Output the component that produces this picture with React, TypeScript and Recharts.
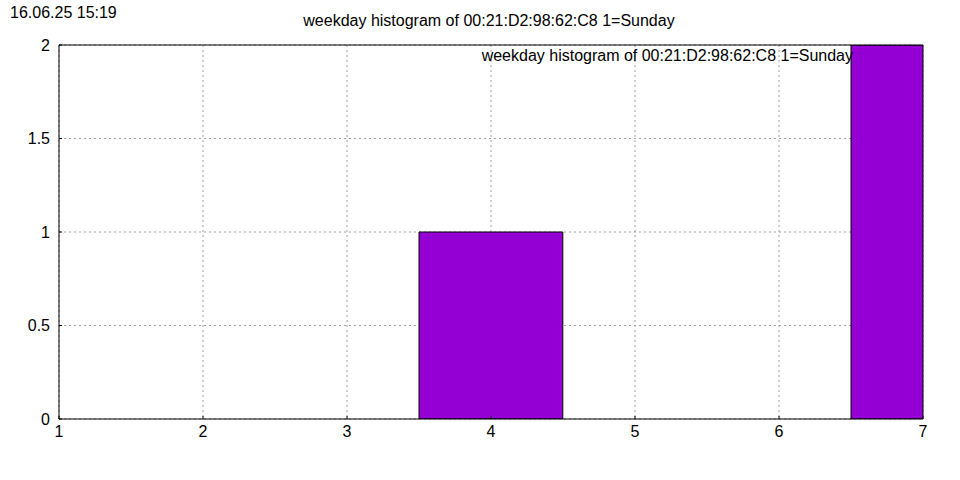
import React from "react";
import { ComposedChart, Bar, XAxis, YAxis, CartesianGrid } from "recharts";

const days = [1, 2, 3, 4, 5, 6, 7];
const counts = [0, 0, 0, 1, 0, 0, 2];
const yTicks = [0, 0.5, 1, 1.5, 2];
const seriesName = "weekday histogram of 00:21:D2:98:62:C8 1=Sunday";
const timestamp = "16.06.25 15:19";

const data = days.map((d, i) => ({ day: d, count: counts[i] }));

const FONT = "'Liberation Sans', Arial, sans-serif";
const tickStyle = { fill: "#000", fontSize: 16, fontFamily: FONT };

export default function App() {
  return (
    <div
      style={{
        position: "absolute",
        left: 0,
        top: 0,
        width: 960,
        height: 480,
        background: "#fff",
        fontFamily: FONT,
        color: "#000",
      }}
    >
      <ComposedChart
        width={960}
        height={480}
        data={data}
        barCategoryGap={0}
        barGap={0}
        margin={{ top: 44, right: 36, bottom: 31, left: 0 }}
      >
        <CartesianGrid stroke="#a0a0a0" strokeDasharray="2 3" />
        <XAxis
          dataKey="day"
          type="number"
          domain={[1, 7]}
          ticks={days}
          allowDataOverflow
          height={30}
          tickSize={-3}
          tickLine={{ stroke: "#000" }}
          axisLine={{ stroke: "#000" }}
          tick={tickStyle}
          tickMargin={10}
        />
        <XAxis
          xAxisId="top"
          orientation="top"
          dataKey="day"
          type="number"
          domain={[1, 7]}
          ticks={days}
          height={1}
          tick={false}
          tickSize={-3}
          tickLine={{ stroke: "#000" }}
          axisLine={{ stroke: "#000" }}
        />
        <YAxis
          domain={[0, 2]}
          ticks={yTicks}
          width={59}
          allowDataOverflow
          tickSize={-3}
          tickLine={{ stroke: "#000" }}
          axisLine={{ stroke: "#000" }}
          tick={tickStyle}
          tickMargin={12}
        />
        <YAxis
          yAxisId="right"
          orientation="right"
          domain={[0, 2]}
          ticks={yTicks}
          width={1}
          tick={false}
          tickSize={-3}
          tickLine={{ stroke: "#000" }}
          axisLine={{ stroke: "#000" }}
        />
        <Bar
          dataKey="count"
          name={seriesName}
          barSize={143.8}
          fill="#9400d3"
          stroke="#000"
          strokeWidth={1}
          isAnimationActive={false}
        />
      </ComposedChart>
      <div style={{ position: "absolute", left: 10, top: 4, fontSize: 16 }}>
        {timestamp}
      </div>
      <div
        style={{
          position: "absolute",
          left: 57,
          width: 864,
          top: 12,
          textAlign: "center",
          fontSize: 16,
          whiteSpace: "nowrap",
        }}
      >
        {seriesName}
      </div>
      <div
        style={{
          position: "absolute",
          right: 960 - 853,
          top: 47,
          fontSize: 16,
          whiteSpace: "nowrap",
        }}
      >
        {seriesName}
      </div>
    </div>
  );
}
